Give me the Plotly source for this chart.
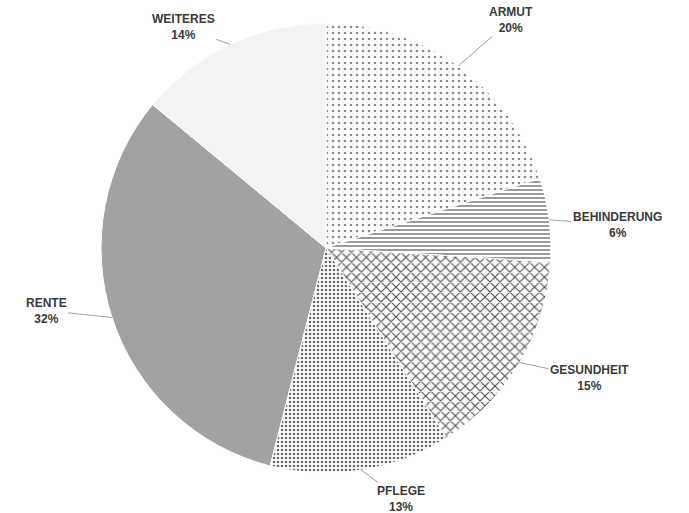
import plotly.graph_objects as go
import math

labels = ["ARMUT", "BEHINDERUNG", "GESUNDHEIT", "PFLEGE", "RENTE", "WEITERES"]
values = [20, 6, 15, 13, 32, 14]

W, H = 689, 513
CX, CY, R = 326, 248, 225

fill_colors = ["#ffffff", "#ffffff", "#ffffff", "#ffffff", "#a2a2a2", "#f3f3f3"]
pat_shapes = [".", "-", "x", ".", "", ""]
pat_fg = ["#8c8c8c", "#6e6e6e", "#505050", "#6a6a6a", "#a2a2a2", "#f3f3f3"]
pat_size = [6, 4, 7, 4, 8, 8]
pat_sol = [0.15, 0.35, 0.3, 0.35, 0.3, 0.3]

fig = go.Figure(go.Pie(
    labels=labels, values=values, sort=False, direction="clockwise", rotation=0,
    textinfo="none", hoverinfo="label+percent",
    marker=dict(colors=fill_colors, line=dict(color="#ffffff", width=1),
                pattern=dict(shape=pat_shapes, fgcolor=pat_fg, bgcolor=fill_colors,
                             size=pat_size, solidity=pat_sol)),
    domain=dict(x=[(CX - R) / W, (CX + R) / W], y=[1 - (CY + R) / H, 1 - (CY - R) / H]),
    showlegend=False,
))

# label text offsets (pixels) from the arc point at each slice's mid-angle
offsets = {"ARMUT": (53, -46), "BEHINDERUNG": (68, 5), "GESUNDHEIT": (70, 15),
           "PFLEGE": (40, 29), "RENTE": (-66, -7), "WEITERES": (-47, -17)}

total = sum(values)
cum = 0
for lab, v in zip(labels, values):
    mid = (cum + v / 2) / total * 2 * math.pi
    cum += v
    px = CX + R * math.sin(mid)
    py = CY - R * math.cos(mid)
    ax, ay = offsets[lab]
    pct = round(v / total * 100)
    fig.add_annotation(
        x=px / W, y=1 - py / H, xref="paper", yref="paper",
        text=f"<b>{lab}</b><br><b>{pct}%</b>", showarrow=True, arrowhead=0,
        arrowwidth=1, arrowcolor="#a0a0a0", ax=ax, ay=ay, standoff=0,
        font=dict(family="Liberation Sans Narrow, Arial Narrow, sans-serif", size=12, color="#3a3a3a"),
        align="center",
    )

fig.update_layout(width=W, height=H, margin=dict(l=0, r=0, t=0, b=0),
                  paper_bgcolor="white", plot_bgcolor="white")
fig.write_html("out.html", config={"displayModeBar": False},
               post_script="document.body.style.margin='0px';document.body.style.overflow='hidden';")
